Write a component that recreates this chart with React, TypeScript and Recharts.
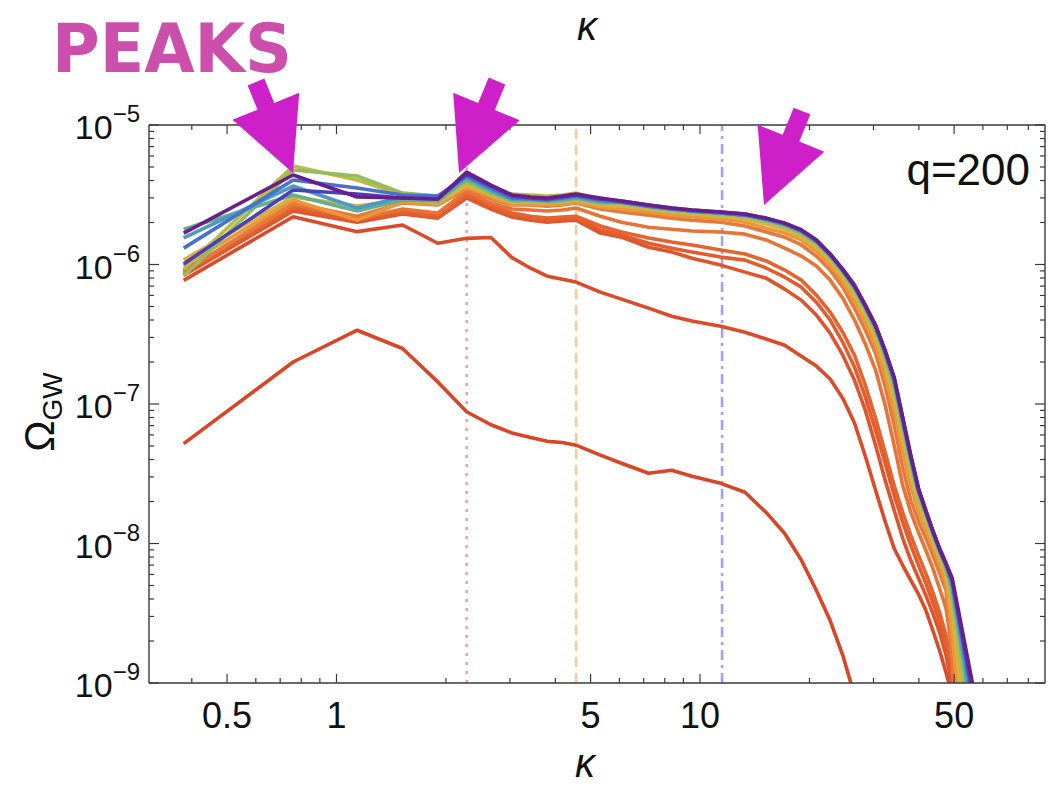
import { LineChart, Line, XAxis, YAxis, ReferenceLine } from 'recharts';

// κ samples shared by all runs (grid step 0.38, thinned out at large κ)
const KAPPA = [
  0.38, 0.76, 1.14, 1.52, 1.9, 2.28, 2.66, 3.04, 3.42, 3.8, 4.18, 4.56, 5.32, 6.08,
  7.22, 8.36, 9.5, 11.4, 13.3, 15.2, 17.1, 19.0, 20.9, 22.8, 24.7, 26.6, 28.5, 30.4,
  32.3, 34.2, 36.1, 38.0, 39.9, 41.8, 43.7, 45.6, 47.5, 49.4, 51.3, 53.2, 55.1, 57.0,
];

// Ω_GW per run, index-aligned with KAPPA (null / missing = no sample)
const LOW_1 = [
  5.2e-8, 2.0e-7, 3.38e-7, 2.5e-7, 1.44e-7, 8.8e-8, 7.1e-8, 6.2e-8, 5.75e-8, 5.4e-8, 5.3e-8,
  5.07e-8, 4.3e-8, 3.76e-8, 3.19e-8, 3.35e-8, 3.03e-8, 2.7e-8, 2.33e-8, 1.67e-8, 1.18e-8,
  7.6e-9, 4.6e-9, 2.8e-9, 1.58e-9, 8.1e-10,
];
const LOW_2 = [
  7.7e-7, 2.2e-6, 1.72e-6, 1.92e-6, 1.42e-6, 1.54e-6, 1.56e-6, 1.12e-6, 9.4e-7, 8.25e-7, 7.85e-7,
  7.48e-7, 6.34e-7, 5.65e-7, 4.87e-7, 4.26e-7, 3.93e-7, 3.61e-7, 3.27e-7, 2.92e-7, 2.64e-7,
  2.2e-7, 1.87e-7, 1.51e-7, 1.1e-7, 7.3e-8, 4.2e-8, 2.41e-8, 1.44e-8, 9.2e-9, 6.98e-9, 5.45e-9,
  4.33e-9, 3.32e-9, 2.38e-9, 1.71e-9, 1.19e-9, 8.1e-10,
];
const MID_1 = [
  8.39e-7, 2.42e-6, 2.01e-6, 2.3e-6, 2.15e-6, 3.0e-6, 2.5e-6, 2.19e-6, 2.08e-6, 2.01e-6, 2.05e-6,
  2.08e-6, 1.68e-6, 1.57e-6, 1.33e-6, 1.23e-6, 1.11e-6, 9.9e-7, 8.82e-7, 7.98e-7, 6.66e-7,
  5.55e-7, 4.34e-7, 3.22e-7, 2.24e-7, 1.48e-7, 9.0e-8, 5.06e-8, 2.84e-8, 1.73e-8, 1.09e-8,
  7.58e-9, 5.62e-9, 4.25e-9, 3.16e-9, 2.31e-9, 1.58e-9, 9.6e-10, 2.8e-10,
];
const MID_2 = [
  8.67e-7, 2.5e-6, 2.08e-6, 2.34e-6, 2.19e-6, 3.1e-6, 2.58e-6, 2.26e-6, 2.15e-6, 2.08e-6, 2.12e-6,
  2.15e-6, 1.77e-6, 1.63e-6, 1.42e-6, 1.31e-6, 1.23e-6, 1.13e-6, 1.075e-6, 9.44e-7, 8.11e-7,
  6.88e-7, 5.37e-7, 4.0e-7, 2.77e-7, 1.84e-7, 1.12e-7, 6.48e-8, 3.76e-8, 2.22e-8, 1.42e-8,
  9.7e-9, 6.97e-9, 5.18e-9, 3.79e-9, 2.72e-9, 1.86e-9, 1.13e-9, 3.9e-10,
];
const MID_3 = [
  9.12e-7, 2.58e-6, 2.19e-6, 2.42e-6, 2.26e-6, 3.2e-6, 2.67e-6, 2.34e-6, 2.22e-6, 2.15e-6, 2.19e-6,
  2.22e-6, 1.89e-6, 1.71e-6, 1.55e-6, 1.45e-6, 1.38e-6, 1.27e-6, 1.19e-6, 1.06e-6, 9.12e-7,
  7.73e-7, 6.03e-7, 4.56e-7, 3.27e-7, 2.24e-7, 1.36e-7, 7.9e-8, 4.51e-8, 2.61e-8, 1.67e-8,
  1.145e-8, 8.23e-9, 6.11e-9, 4.47e-9, 3.21e-9, 2.19e-9, 1.34e-9, 5.4e-10,
];
const MID_4 = [
  8.82e-7, 2.71e-6, 2.12e-6, 2.5e-6, 2.34e-6, 3.36e-6, 2.76e-6, 2.5e-6, 2.46e-6, 2.42e-6, 2.46e-6,
  2.54e-6, 2.22e-6, 2.01e-6, 1.85e-6, 1.79e-6, 1.74e-6, 1.71e-6, 1.65e-6, 1.5e-6, 1.31e-6,
  1.15e-6, 9.74e-7, 7.73e-7, 5.74e-7, 4.0e-7, 2.69e-7, 1.75e-7, 9.81e-8, 5.06e-8, 2.61e-8,
  1.67e-8, 1.2e-8, 8.94e-9, 6.64e-9, 4.76e-9, 3.43e-9, 1.71e-9, 3.9e-10,
];
const BAND_0 = [
  8.82e-7, 2.76e-6, 2.22e-6, 2.76e-6, 2.67e-6, 3.48e-6, 2.95e-6, 2.67e-6, 2.67e-6, 2.62e-6, 2.67e-6,
  2.76e-6, 2.5e-6, 2.38e-6, 2.26e-6, 2.15e-6, 2.08e-6, 2.01e-6, 1.89e-6, 1.71e-6, 1.57e-6,
  1.38e-6, 1.15e-6, 9.12e-7, 6.89e-7, 4.87e-7, 3.38e-7, 2.31e-7, 1.34e-7, 7.05e-8, 3.52e-8,
  2.04e-8, 1.44e-8, 1.09e-8, 8.23e-9, 6.11e-9, 4.62e-9, 1.45e-9, 2.8e-10,
];
const BAND_1 = [
  9.74e-7, 2.9e-6, 2.08e-6, 2.8e-6, 2.71e-6, 3.59e-6, 3.05e-6, 2.71e-6, 2.71e-6, 2.67e-6, 2.71e-6,
  2.8e-6, 2.58e-6, 2.5e-6, 2.38e-6, 2.26e-6, 2.19e-6, 2.12e-6, 2.01e-6, 1.82e-6, 1.68e-6,
  1.5e-6, 1.25e-6, 9.9e-7, 7.48e-7, 5.46e-7, 3.86e-7, 2.64e-7, 1.61e-7, 8.88e-8, 4.51e-8,
  2.57e-8, 1.7e-8, 1.24e-8, 9.39e-9, 6.98e-9, 5.27e-9, 2.2e-9, 8.15e-10,
];
const BAND_2 = [
  1.08e-6, 3.05e-6, 2.62e-6, 2.9e-6, 2.76e-6, 3.71e-6, 3.15e-6, 2.8e-6, 2.8e-6, 2.76e-6, 2.8e-6,
  2.9e-6, 2.67e-6, 2.62e-6, 2.5e-6, 2.38e-6, 2.3e-6, 2.22e-6, 2.12e-6, 1.95e-6, 1.79e-6,
  1.57e-6, 1.33e-6, 1.06e-6, 8.12e-7, 6.03e-7, 4.27e-7, 2.97e-7, 1.87e-7, 1.08e-7, 5.59e-8,
  3.09e-8, 1.94e-8, 1.4e-8, 1.04e-8, 7.71e-9, 5.91e-9, 3.06e-9, null, 5.67e-10,
];
const BAND_3 = [
  9.27e-7, 5.08e-6, 4.03e-6, 3.15e-6, 2.95e-6, 3.84e-6, 3.2e-6, 3.2e-6, 3.15e-6, 3.1e-6, 3.15e-6,
  3.25e-6, 2.9e-6, 2.71e-6, 2.54e-6, 2.42e-6, 2.34e-6, 2.26e-6, 2.19e-6, 2.01e-6, 1.85e-6,
  1.65e-6, 1.4e-6, 1.11e-6, 8.53e-7, 6.44e-7, 4.56e-7, 3.22e-7, 2.06e-7, 1.26e-7, 6.38e-8,
  3.46e-8, 2.15e-8, 1.52e-8, 1.11e-8, 8.23e-9, 6.31e-9, 3.85e-9, null, 8.85e-10,
];
const BAND_4 = [
  8.26e-7, 4.76e-6, 4.31e-6, 3.25e-6, 3.1e-6, 3.97e-6, 3.25e-6, 2.85e-6, 2.85e-6, 2.8e-6, 2.85e-6,
  2.95e-6, 2.76e-6, 2.76e-6, 2.58e-6, 2.46e-6, 2.38e-6, 2.3e-6, 2.22e-6, 2.08e-6, 1.92e-6,
  1.68e-6, 1.42e-6, 1.13e-6, 8.82e-7, 6.66e-7, 4.79e-7, 3.38e-7, 2.2e-7, 1.34e-7, 6.93e-8,
  3.76e-8, 2.25e-8, 1.59e-8, 1.16e-8, 8.65e-9, 6.64e-9, 4.39e-9, null, null, 6.05e-10,
];
const BAND_5 = [
  1.79e-6, 3.15e-6, 2.42e-6, 2.9e-6, 2.85e-6, 4.1e-6, 3.36e-6, 2.9e-6, 2.9e-6, 2.85e-6, 2.9e-6,
  3.0e-6, 2.8e-6, 2.8e-6, 2.62e-6, 2.5e-6, 2.42e-6, 2.34e-6, 2.26e-6, 2.08e-6, 1.92e-6,
  1.71e-6, 1.45e-6, 1.15e-6, 8.97e-7, 6.77e-7, 4.87e-7, 3.5e-7, 2.28e-7, 1.41e-7, 7.28e-8,
  3.95e-8, 2.33e-8, 1.65e-8, 1.18e-8, 8.79e-9, 6.87e-9, 4.77e-9, null, null, 7.76e-10,
];
const BAND_6 = [
  1.55e-6, 3.65e-6, 2.54e-6, 3.05e-6, 3.0e-6, 4.24e-6, 3.42e-6, 2.95e-6, 2.95e-6, 2.9e-6, 2.95e-6,
  3.05e-6, 2.85e-6, 2.8e-6, 2.62e-6, 2.5e-6, 2.42e-6, 2.34e-6, 2.26e-6, 2.12e-6, 1.95e-6,
  1.74e-6, 1.47e-6, 1.17e-6, 9.12e-7, 6.89e-7, 4.95e-7, 3.56e-7, 2.31e-7, 1.46e-7, 7.53e-8,
  4.02e-8, 2.37e-8, 1.67e-8, 1.2e-8, 8.94e-9, 6.98e-9, 5.01e-9, null, null, 8.7e-10,
];
const BAND_7 = [
  1.31e-6, 4.03e-6, 3.53e-6, 3.15e-6, 3.1e-6, 4.31e-6, 3.53e-6, 3.0e-6, 2.95e-6, 2.9e-6, 3.0e-6,
  3.1e-6, 2.9e-6, 2.8e-6, 2.62e-6, 2.5e-6, 2.42e-6, 2.34e-6, 2.26e-6, 2.12e-6, 1.95e-6,
  1.74e-6, 1.47e-6, 1.17e-6, 9.12e-7, 7.0e-7, 5.03e-7, 3.62e-7, 2.35e-7, 1.51e-7, 7.65e-8,
  4.15e-8, 2.41e-8, 1.7e-8, 1.22e-8, 9.09e-9, 7.1e-9, 5.27e-9, null, null, null, 6.15e-10,
];
const BAND_8 = [
  1.01e-6, 3.42e-6, 3.2e-6, 3.0e-6, 2.95e-6, 4.45e-6, 3.65e-6, 3.1e-6, 3.0e-6, 2.95e-6, 3.05e-6,
  3.15e-6, 2.95e-6, 2.85e-6, 2.67e-6, 2.54e-6, 2.46e-6, 2.38e-6, 2.3e-6, 2.15e-6, 1.98e-6,
  1.77e-6, 1.5e-6, 1.19e-6, 9.12e-7, 7.0e-7, 5.03e-7, 3.62e-7, 2.39e-7, 1.53e-7, 7.91e-8,
  4.22e-8, 2.45e-8, 1.7e-8, 1.22e-8, 9.09e-9, 7.1e-9, 5.45e-9, null, null, null, 6.9e-10,
];
const BAND_9 = [
  1.68e-6, 4.38e-6, 3.05e-6, 3.0e-6, 2.95e-6, 4.6e-6, 3.71e-6, 3.15e-6, 3.05e-6, 3.0e-6, 3.1e-6,
  3.2e-6, 3.0e-6, 2.85e-6, 2.67e-6, 2.54e-6, 2.46e-6, 2.38e-6, 2.3e-6, 2.15e-6, 1.98e-6,
  1.77e-6, 1.5e-6, 1.19e-6, 9.27e-7, 7.12e-7, 5.12e-7, 3.68e-7, 2.43e-7, 1.56e-7, 8.04e-8,
  4.29e-8, 2.49e-8, 1.73e-8, 1.24e-8, 9.24e-9, 7.21e-9, 5.63e-9, null, null, null, 8.15e-10,
];

// drawn in this order, so the purple run ends up on top
const RUNS = [
  { id: 'low1', values: LOW_1, color: '#dc4426' },
  { id: 'low2', values: LOW_2, color: '#dd4a28' },
  { id: 'mid1', values: MID_1, color: '#e1542b' },
  { id: 'mid2', values: MID_2, color: '#e35c2d' },
  { id: 'mid3', values: MID_3, color: '#e4632f' },
  { id: 'mid4', values: MID_4, color: '#e87337' },
  { id: 'band0', values: BAND_0, color: '#e6793a' },
  { id: 'band1', values: BAND_1, color: '#ea963c' },
  { id: 'band2', values: BAND_2, color: '#dcb03f' },
  { id: 'band3', values: BAND_3, color: '#bcbb49' },
  { id: 'band4', values: BAND_4, color: '#93bc5c' },
  { id: 'band5', values: BAND_5, color: '#63b18c' },
  { id: 'band6', values: BAND_6, color: '#4d98c6' },
  { id: 'band7', values: BAND_7, color: '#4671cf' },
  { id: 'band8', values: BAND_8, color: '#4b3fb6' },
  { id: 'band9', values: BAND_9, color: '#6a1e8c' },
];

const X_TICKS = [0.4, 0.5, 0.6, 0.7, 0.8, 0.9, 1, 2, 3, 4, 5, 6, 7, 8, 9, 10, 20, 30, 40, 50, 60, 70, 80];
const X_LABELS: Record<string, string> = { '0.5': '0.5', '1': '1', '5': '5', '10': '10', '50': '50' };
const Y_TICKS = [
  1e-9, 2e-9, 3e-9, 4e-9, 5e-9, 6e-9, 7e-9, 8e-9, 9e-9,
  1e-8, 2e-8, 3e-8, 4e-8, 5e-8, 6e-8, 7e-8, 8e-8, 9e-8,
  1e-7, 2e-7, 3e-7, 4e-7, 5e-7, 6e-7, 7e-7, 8e-7, 9e-7,
  1e-6, 2e-6, 3e-6, 4e-6, 5e-6, 6e-6, 7e-6, 8e-6, 9e-6,
  1e-5,
];

// vertical guides: dotted, dashed, dash-dot
const GUIDES = [
  { k: 2.28, color: '#f5a0a6', dash: '3 6' },
  { k: 4.56, color: '#fdc792', dash: '10 6' },
  { k: 11.5, color: '#a0a0f6', dash: '10 5 3 5' },
];

// arrow annotations: tail -> tip, page pixels
const ARROWS = [
  { tail: [256, 82], tip: [293, 173] },
  { tail: [497, 81], tip: [459, 173] },
  { tail: [802, 111], tip: [764, 205] },
];

const FRAME = '#3a3a3a';
const FONT = "'Liberation Sans', Arial, Helvetica, sans-serif";

const toPoints = (values: (number | null)[]) =>
  KAPPA.flatMap((k, i) => (values[i] == null ? [] : [{ k, v: values[i] as number }]));

const isDecade = (v: number) => Math.abs(Math.log10(v) - Math.round(Math.log10(v))) < 1e-6;

const BottomTick = ({ x, y, payload }: any) => {
  const label = X_LABELS[String(payload.value)];
  return (
    <g>
      <line x1={x} x2={x} y1={y} y2={y - (label ? 9 : 5)} stroke={FRAME} strokeWidth={1.2} />
      {label && (
        <text x={x} y={y + 45} textAnchor="middle" fontFamily={FONT} fontSize={36} fill="#111">
          {label}
        </text>
      )}
    </g>
  );
};

const TopTick = ({ x, y, payload }: any) => {
  const major = X_LABELS[String(payload.value)] !== undefined;
  return <line x1={x} x2={x} y1={y} y2={y + (major ? 9 : 5)} stroke={FRAME} strokeWidth={1.2} />;
};

const LeftTick = ({ x, y, payload }: any) => {
  const major = isDecade(payload.value);
  const exp = Math.round(Math.log10(payload.value));
  return (
    <g>
      <line x1={x} x2={x + (major ? 10 : 5)} y1={y} y2={y} stroke={FRAME} strokeWidth={1.2} />
      {major && (
        <text x={x - 9} y={y + 14} textAnchor="end" fontFamily={FONT} fontSize={34} fill="#111">
          10
          <tspan dy={-17} fontSize={24}>
            {'\u2212' + Math.abs(exp)}
          </tspan>
        </text>
      )}
    </g>
  );
};

const RightTick = ({ x, y, payload }: any) => {
  const major = isDecade(payload.value);
  return <line x1={x} x2={x - (major ? 10 : 5)} y1={y} y2={y} stroke={FRAME} strokeWidth={1.2} />;
};

const arrowPolygon = (tail: number[], tip: number[], shaft = 18, headW = 72, headL = 72) => {
  const dx = tip[0] - tail[0];
  const dy = tip[1] - tail[1];
  const len = Math.hypot(dx, dy);
  const ux = dx / len;
  const uy = dy / len;
  const nx = -uy;
  const ny = ux;
  const bx = tip[0] - ux * headL;
  const by = tip[1] - uy * headL;
  const pts = [
    [tail[0] + (nx * shaft) / 2, tail[1] + (ny * shaft) / 2],
    [bx + (nx * shaft) / 2, by + (ny * shaft) / 2],
    [bx + (nx * headW) / 2, by + (ny * headW) / 2],
    [tip[0], tip[1]],
    [bx - (nx * headW) / 2, by - (ny * headW) / 2],
    [bx - (nx * shaft) / 2, by - (ny * shaft) / 2],
    [tail[0] - (nx * shaft) / 2, tail[1] - (ny * shaft) / 2],
  ];
  return pts.map((p) => p.join(',')).join(' ');
};

export default function App() {
  const xDomain = [0.305, 88.9];
  const yDomain = [1e-9, 1e-5];

  // plot box: x 149..1045, y 125..683 (each axis takes 1px of the margin)
  return (
    <div style={{ position: 'absolute', left: 0, top: 0, width: 1052, height: 785, background: '#fff' }}>
      <LineChart width={1052} height={785} margin={{ top: 124, right: 6, bottom: 101, left: 148 }}>
        <XAxis
          dataKey="k"
          type="number"
          scale="log"
          domain={xDomain}
          allowDataOverflow
          ticks={X_TICKS}
          interval={0}
          height={1}
          tickSize={0}
          tickMargin={0}
          tickLine={false}
          tick={<BottomTick />}
          axisLine={{ stroke: FRAME, strokeWidth: 1.4 }}
        />
        <XAxis
          xAxisId="top"
          orientation="top"
          dataKey="k"
          type="number"
          scale="log"
          domain={xDomain}
          allowDataOverflow
          ticks={X_TICKS}
          interval={0}
          height={1}
          tickSize={0}
          tickMargin={0}
          tickLine={false}
          tick={<TopTick />}
          axisLine={{ stroke: FRAME, strokeWidth: 1.4 }}
        />
        <YAxis
          type="number"
          scale="log"
          domain={yDomain}
          allowDataOverflow
          ticks={Y_TICKS}
          interval={0}
          width={1}
          tickSize={0}
          tickMargin={0}
          tickLine={false}
          tick={<LeftTick />}
          axisLine={{ stroke: FRAME, strokeWidth: 1.4 }}
        />
        <YAxis
          yAxisId="right"
          orientation="right"
          type="number"
          scale="log"
          domain={yDomain}
          allowDataOverflow
          ticks={Y_TICKS}
          interval={0}
          width={1}
          tickSize={0}
          tickMargin={0}
          tickLine={false}
          tick={<RightTick />}
          axisLine={{ stroke: FRAME, strokeWidth: 1.4 }}
        />
        {GUIDES.map((g) => (
          <ReferenceLine key={g.k} x={g.k} stroke={g.color} strokeWidth={2.6} strokeDasharray={g.dash} />
        ))}
        {RUNS.map((r) => (
          <Line
            key={r.id}
            data={toPoints(r.values)}
            dataKey="v"
            type="linear"
            stroke={r.color}
            strokeWidth={3.6}
            strokeLinejoin="round"
            dot={false}
            activeDot={false}
            isAnimationActive={false}
          />
        ))}
      </LineChart>

      <svg width={1052} height={785} style={{ position: 'absolute', left: 0, top: 0, pointerEvents: 'none' }}>
        <text
          x={52}
          y={72}
          fontFamily="'DejaVu Sans Condensed', 'DejaVu Sans', sans-serif"
          fontWeight={700}
          fontSize={68}
          fill="#cb4fab"
          textLength={240}
          lengthAdjust="spacingAndGlyphs"
        >
          PEAKS
        </text>
        {ARROWS.map((a, i) => (
          <polygon key={i} points={arrowPolygon(a.tail, a.tip)} fill="#cd20c8" />
        ))}
        <text x={1030} y={185} textAnchor="end" fontFamily={FONT} fontSize={44} fill="#111">
          q=200
        </text>
        <text x={587} y={40} textAnchor="middle" fontFamily={FONT} fontStyle="italic" fontSize={40} fill="#111">
          κ
        </text>
        <text x={585} y={777} textAnchor="middle" fontFamily={FONT} fontStyle="italic" fontSize={40} fill="#111">
          κ
        </text>
        <text transform="translate(54 412) rotate(-90)" textAnchor="middle" fontFamily={FONT} fontSize={42} fill="#111">
          Ω
          <tspan fontSize={28} dy={8}>
            GW
          </tspan>
        </text>
      </svg>
    </div>
  );
}
